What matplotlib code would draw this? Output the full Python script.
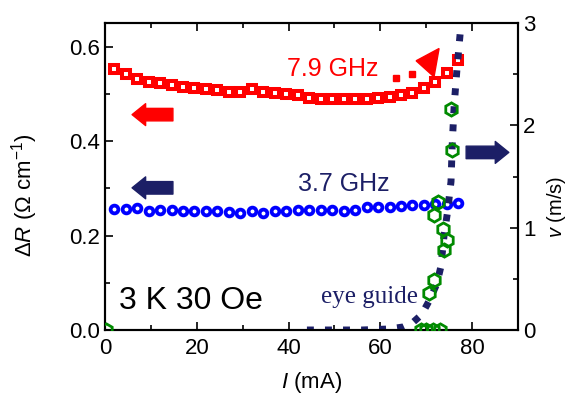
import matplotlib
matplotlib.use("Agg")
import matplotlib.pyplot as plt
from matplotlib.patches import Polygon
from matplotlib.ticker import MultipleLocator, FormatStrFormatter

plt.rcParams['font.family'] = ['Liberation Sans', 'DejaVu Sans']
plt.rcParams['mathtext.fontset'] = 'custom'
plt.rcParams['mathtext.rm'] = 'Liberation Sans'
plt.rcParams['mathtext.it'] = 'Liberation Sans:italic'

# ---- data ----
I_79 = [2 + 2.5 * i for i in range(31)]
dR_79 = [0.552, 0.541, 0.531, 0.526, 0.524, 0.518, 0.515, 0.513, 0.510, 0.508,
         0.504, 0.503, 0.510, 0.504, 0.501, 0.500, 0.497, 0.492, 0.490, 0.489,
         0.489, 0.489, 0.490, 0.491, 0.494, 0.497, 0.502, 0.513, 0.525, 0.544, 0.571]

I_37 = [2 + 2.5 * i for i in range(31)]
dR_37 = [0.257, 0.257, 0.258, 0.253, 0.255, 0.254, 0.253, 0.253, 0.251, 0.251,
         0.250, 0.248, 0.251, 0.247, 0.253, 0.253, 0.254, 0.255, 0.254, 0.254,
         0.253, 0.254, 0.260, 0.261, 0.260, 0.262, 0.264, 0.265, 0.266, 0.267, 0.268]

I_v = [0.3, 68.8, 70.0, 71.5, 73.0, 70.7, 71.7, 73.9, 74.6, 73.6, 71.7, 72.5, 75.7, 75.4]
v = [0.0, 0.0, 0.0, 0.0, 0.0, 0.36, 0.49, 0.78, 0.88, 0.99, 1.12, 1.25, 1.76, 2.16]

guide_I = [44, 50, 56, 62, 65, 67, 69, 70.7, 72.3, 73.2, 73.9, 74.6, 75.4, 75.7, 76.1, 76.7, 77.4]
guide_v = [0, 0, 0, 0.01, 0.03, 0.07, 0.15, 0.29, 0.45, 0.62, 0.93, 1.14, 1.45, 1.85, 2.2, 2.55, 2.9]

xticks = [0, 20, 40, 60, 80]
yticks_left = [0.0, 0.2, 0.4, 0.6]
yticks_right = [0, 1, 2, 3]

red = '#ff0000'
blue = '#0000ff'
navy = '#1c1f66'
green = '#008a00'

fig = plt.figure(figsize=(5.67, 3.94), dpi=100)
ax = fig.add_axes([105/567, 64/394, 413/567, 307/394])
ax2 = ax.twinx()

ax.plot(I_79, dR_79, ls='none', marker='s', ms=6, mew=2.9, mec=red, mfc='white', zorder=3)
ax.plot(I_37, dR_37, ls='none', marker='o', ms=5.6, mew=2.7, mec=blue, mfc='white', zorder=3)

ax2.plot(guide_I, guide_v, color=navy, lw=5, ls=(0, (1, 1.6)), dash_capstyle='butt', zorder=2)
ax2.plot(I_v, v, ls='none', marker='h', ms=9.5, mew=2.0, mec=green, mfc='none', zorder=4)

ax.set_xlim(0, 90)
ax.set_ylim(0, 0.65)
ax2.set_ylim(0, 3)

ax.set_xticks(xticks)
ax.xaxis.set_minor_locator(MultipleLocator(10))
ax.set_yticks(yticks_left)
ax.yaxis.set_minor_locator(MultipleLocator(0.1))
ax.yaxis.set_major_formatter(FormatStrFormatter('%.1f'))
ax2.set_yticks(yticks_right)
ax2.yaxis.set_minor_locator(MultipleLocator(0.5))

for a in (ax, ax2):
    for s in a.spines.values():
        s.set_linewidth(1.5)
    a.tick_params(which='major', direction='in', length=5.5, width=1.2, labelsize=16)
    a.tick_params(which='minor', direction='in', length=3.5, width=1.2)
ax.tick_params(which='both', top=True, right=False)
ax.tick_params(axis='x', pad=6)

ax.set_xlabel(r'$\mathit{I}$ (mA)', fontsize=16, labelpad=8)
ax.set_ylabel(r'$\Delta\mathit{R}$ ($\Omega$ cm$^{-1}$)', fontsize=16)
ax.yaxis.set_label_coords(-0.157, 0.44)
ax2.set_ylabel(r'$\mathit{v}$ (m/s)', fontsize=14.5)
ax2.yaxis.set_label_coords(1.066, 0.40)

# annotations
ax.text((287 - 105) / 4.6, 0.552, '7.9 GHz', color=red, fontsize=18, va='center', ha='left')
ax.text((298 - 105) / 4.6, 0.310, '3.7 GHz', color=navy, fontsize=18, va='center', ha='left')
ax.text(0.035, 0.095, '3 K 30 Oe', transform=ax.transAxes, fontsize=23, va='center', ha='left')
ax.text((322 - 105) / 4.6, 0.07, 'eye guide', color=navy, fontsize=18, va='center', ha='left',
        family=['Liberation Serif', 'DejaVu Serif'])

arrow_style = 'simple,head_length=0.65,head_width=1.05,tail_width=0.6'
ax.annotate('', xy=(5.9, 0.456), xytext=(14.8, 0.456),
            arrowprops=dict(arrowstyle=arrow_style, color=red, shrinkA=0, shrinkB=0, mutation_scale=15))
ax.annotate('', xy=(5.9, 0.301), xytext=(14.8, 0.301),
            arrowprops=dict(arrowstyle=arrow_style, color=navy, shrinkA=0, shrinkB=0, mutation_scale=15))
ax.annotate('', xy=(88.0, 0.376), xytext=(78.7, 0.376),
            arrowprops=dict(arrowstyle=arrow_style, color=navy, shrinkA=0, shrinkB=0, mutation_scale=15))

ax.plot([63.4, 67.0], [0.534, 0.542], ls='none', marker='s', ms=5, color=red, zorder=3)
ax.add_patch(Polygon([(67.8, 0.570), (72.8, 0.596), (71.7, 0.536)], closed=True, color=red, zorder=3))

fig.savefig('out.png', dpi=100)
